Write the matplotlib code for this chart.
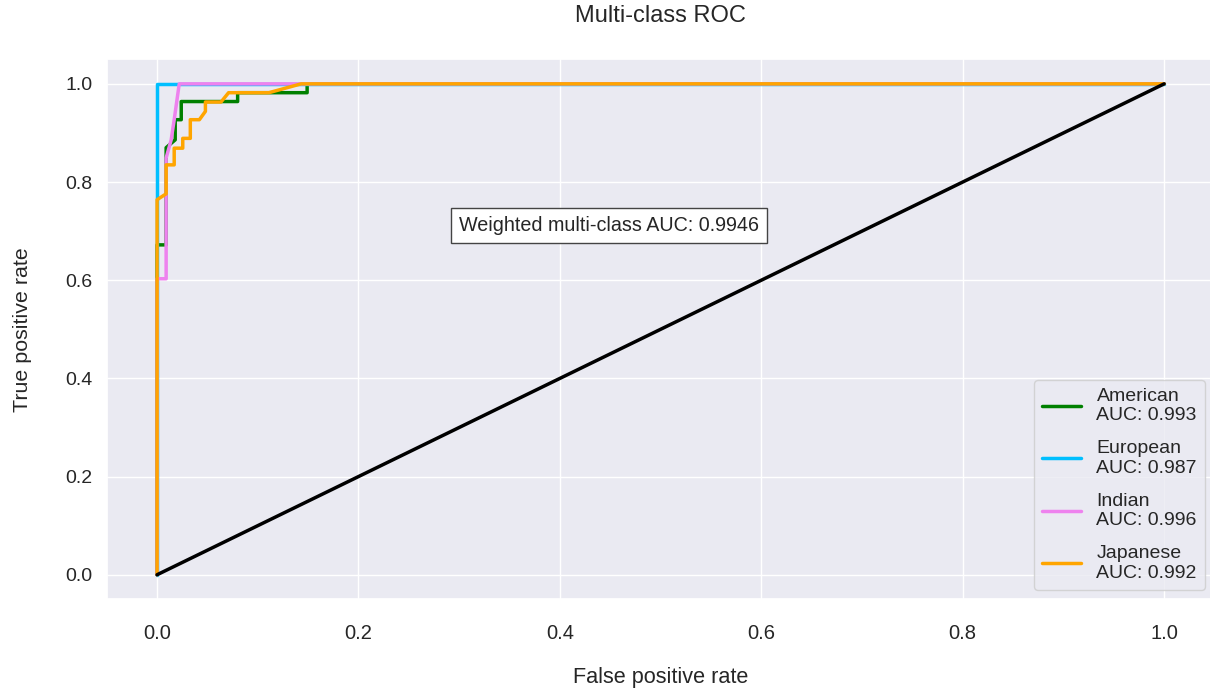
import matplotlib
matplotlib.use("Agg")
import matplotlib.pyplot as plt
import seaborn as sns

sns.set_theme(style="darkgrid")
plt.rcParams['font.family'] = ['Liberation Sans', 'DejaVu Sans']

classes = ["American", "European", "Indian", "Japanese"]
aucs = [0.993, 0.987, 0.996, 0.992]
colors = ["green", "deepskyblue", "violet", "orange"]

fpr_american = [0, 0, 0.009, 0.009, 0.018, 0.018, 0.024, 0.024, 0.080, 0.080, 0.149, 0.149, 1.0]
tpr_american = [0, 0.672, 0.672, 0.870, 0.886, 0.927, 0.927, 0.964, 0.964, 0.982, 0.982, 1.0, 1.0]

fpr_european = [0, 0, 0, 0.021, 1.0]
tpr_european = [0, 0.764, 1.0, 1.0, 1.0]

fpr_indian = [0, 0, 0.009, 0.009, 0.014, 0.017, 0.022, 1.0]
tpr_indian = [0, 0.603, 0.603, 0.849, 0.886, 0.927, 1.0, 1.0]

fpr_japanese = [0, 0, 0.009, 0.009, 0.017, 0.017, 0.0255, 0.0255, 0.033, 0.033,
                0.042, 0.048, 0.048, 0.0635, 0.071, 0.111, 0.143, 1.0]
tpr_japanese = [0, 0.764, 0.776, 0.835, 0.835, 0.869, 0.869, 0.889, 0.889, 0.927,
                0.927, 0.944, 0.963, 0.963, 0.982, 0.982, 1.0, 1.0]

fprs = [fpr_american, fpr_european, fpr_indian, fpr_japanese]
tprs = [tpr_american, tpr_european, tpr_indian, tpr_japanese]

weighted_auc = 0.9946
diag = [0, 1]

fig = plt.figure(figsize=(12.1, 6.89), dpi=100)
ax = fig.add_axes([0.0882, 0.1302, 0.9155, 0.7837])

for name, auc, c, f, t in zip(classes, aucs, colors, fprs, tprs):
    ax.plot(f, t, color=c, lw=2.5, label=f"{name}\nAUC: {auc:.3f}")

ax.plot(diag, diag, color="black", lw=2.5)

ax.text(0.3, 0.7, f"Weighted multi-class AUC: {weighted_auc}", fontsize=14.2,
        color="#262626", bbox=dict(facecolor="white", edgecolor="#444444", pad=6))

ax.set_xlim(-0.05, 1.05)
ax.set_ylim(-0.05, 1.05)
ax.set_xticks([0, 0.2, 0.4, 0.6, 0.8, 1.0])
ax.set_yticks([0, 0.2, 0.4, 0.6, 0.8, 1.0])
ax.tick_params(axis='x', labelsize=14.5, pad=12, colors="#262626")
ax.tick_params(axis='y', labelsize=14, pad=4, colors="#262626")
ax.set_xlabel("False positive rate", fontsize=15.6, labelpad=17, color="#262626")
ax.set_ylabel("True positive rate", fontsize=15.4, labelpad=24, color="#262626")
ax.set_title("Multi-class ROC", fontsize=17, pad=27, color="#262626")

ax.legend(loc="lower right", fontsize=14, frameon=True, labelspacing=0.82)

fig.savefig("out.png", dpi=100)
